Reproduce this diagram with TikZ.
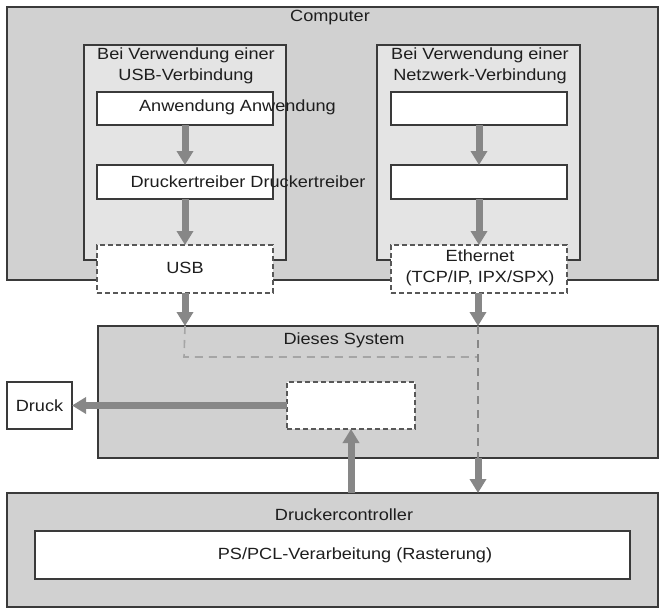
\documentclass[tikz,border=0pt]{standalone}
\usepackage{fontspec}
\setmainfont{Liberation Sans}[FakeStretch=1.12]
\usetikzlibrary{arrows.meta}
\definecolor{outerfill}{HTML}{D1D1D1}
\definecolor{innerfill}{HTML}{E4E4E4}
\definecolor{edge}{HTML}{3A3A3A}
\definecolor{arrowgray}{HTML}{878787}
\definecolor{txt}{HTML}{1E1E1E}
\begin{document}
\begin{tikzpicture}[x=1pt,y=-1pt,
  every node/.style={inner sep=0pt, outer sep=0pt},
  outerbox/.style={draw=edge, line width=1.3pt, fill=outerfill, rectangle},
  groupbox/.style={draw=edge, line width=1.3pt, fill=innerfill, rectangle},
  whitebox/.style={draw=edge, line width=1.1pt, fill=white, rectangle},
  dashbox/.style={draw=edge!85, line width=1.3pt, dash pattern=on 5pt off 3pt, fill=white, rectangle},
  lab/.style={text=txt, font=\fontsize{16.2}{21.5}\selectfont, align=center},
  flow/.style={draw=arrowgray, line width=7pt, -{Triangle[width=16pt,length=14pt]}},
  route/.style={draw=arrowgray!75, line width=1.6pt, dash pattern=on 8pt off 6pt},
  vroute/.style={draw=arrowgray, line width=1.8pt, dash pattern=on 8pt off 6pt}
]
\useasboundingbox (0,0) rectangle (660,614);

% Computer
\node[outerbox, minimum width=651pt, minimum height=273pt] (computer) at (332.5,143.5) {};
\node[lab] (computerlab) at (330,18) {Computer};

% groups
\node[groupbox, minimum width=202pt, minimum height=215pt] (usbgrp) at (185,152.5) {};
\node[groupbox, minimum width=203pt, minimum height=215pt] (netgrp) at (478.5,152.5) {};
\node[lab] (usbgrplab) at (186,66) {Bei Verwendung einer\\USB-Verbindung};
\node[lab] (netgrplab) at (480,66) {Bei Verwendung einer\\Netzwerk-Verbindung};

% USB column
\node[whitebox, minimum width=176pt, minimum height=33pt] (app1) at (185,108.5) {};
\node[whitebox, minimum width=176pt, minimum height=34pt] (drv1) at (185,182) {};
\node[dashbox, minimum width=176pt, minimum height=48pt] (usb) at (185,269) {};
\node[lab] (app1lab) at (237.5,107.5) {Anwendung Anwendung};
\node[lab] (drv1lab) at (248,181.5) {Druckertreiber Druckertreiber};
\node[lab] (usblab) at (185,268) {USB};

% Network column
\node[whitebox, minimum width=176pt, minimum height=33pt] (app2) at (479,108.5) {};
\node[whitebox, minimum width=176pt, minimum height=34pt] (drv2) at (479,182) {};
\node[dashbox, minimum width=176pt, minimum height=48pt] (eth) at (479,269) {};
\node[lab] (ethlab) at (480,268) {Ethernet\\(TCP/IP, IPX/SPX)};

% Dieses System
\node[outerbox, minimum width=560pt, minimum height=132pt] (system) at (378,392) {};
\node[lab] (systemlab) at (344,340) {Dieses System};
\node[dashbox, minimum width=128pt, minimum height=47pt] (proc) at (351,405.5) {};
\node[whitebox, minimum width=65pt, minimum height=47pt] (druck) at (39.5,405.5) {};
\node[lab] (drucklab) at (39.5,405.5) {Druck};

% Druckercontroller
\node[outerbox, minimum width=651pt, minimum height=114pt] (ctrl) at (332.5,550) {};
\node[lab] (ctrllab) at (344,515) {Druckercontroller};
\node[whitebox, minimum width=595pt, minimum height=48pt] (ps) at (332.5,555) {};
\node[lab] (pslab) at (355,555) {PS/PCL-Verarbeitung (Rasterung)};

% coordinates
\coordinate (usbin) at (usb.south |- system.north);
\coordinate (ethin) at (478,0 |- system.north);
\coordinate (ethout) at (478,0 |- system.south);
\coordinate (ctrlin) at (478,0 |- ctrl.north);
\coordinate (bend1) at (184,357);
\coordinate (bend2) at (478,357);
\coordinate (ctrlup) at (proc.south |- ctrl.north);

% dashed internal routes
\draw[route] (usbin) -- (bend1) -- (bend2);
\draw[vroute] (ethin) -- (ethout);

% arrows
\draw[flow] (app1.south) -- (drv1.north);
\draw[flow] (drv1.south) -- (usb.north);
\draw[flow] (app2.south) -- (drv2.north);
\draw[flow] (drv2.south) -- (eth.north);
\draw[flow] (usb.south) -- (usbin);
\draw[flow] (eth.south -| ethin) -- (ethin);
\draw[flow] (ethout) -- (ctrlin);
\draw[flow] (ctrlup) -- (proc.south);
\draw[flow] (proc.west) -- (druck.east);
\end{tikzpicture}
\end{document}
